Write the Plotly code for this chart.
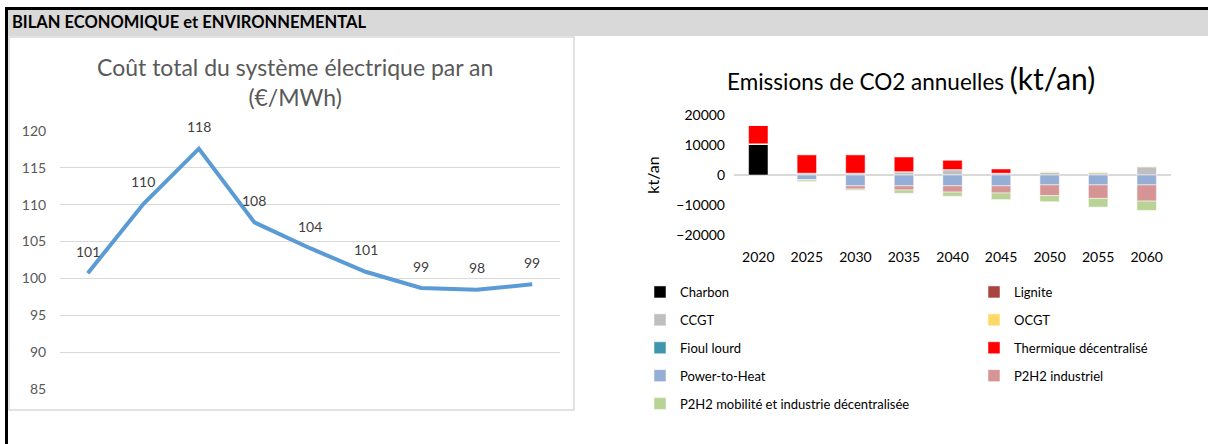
import plotly.graph_objects as go

years = ["2020", "2025", "2030", "2035", "2040", "2045", "2050", "2055", "2060"]

# coût total du système électrique (EUR/MWh)
cout_total = [100.7, 110.1, 117.6, 107.6, 104.1, 100.9, 98.7, 98.45, 99.2]

# émissions de CO2 (kt/an) par filière
charbon = [10200, 0, 0, 0, 0, 0, 0, 0, 0]
lignite = [0, 0, 0, 0, 0, 0, 0, 0, 0]
ccgt = [200, 600, 600, 1100, 1800, 600, 900, 700, 2700]
ocgt = [0, 0, 0, 0, 0, 0, 400, 400, 300]
fioul = [0, 0, 0, 0, 0, 0, 0, 0, 0]
thermique = [6200, 6100, 6100, 4900, 3100, 1400, 0, 0, 0]
power_to_heat = [0, -1600, -3600, -3600, -3600, -3600, -3300, -3300, -3300]
p2h2_ind = [0, -100, -1100, -1400, -2100, -2400, -3600, -4500, -5400]
p2h2_mob = [0, -500, -400, -1100, -1400, -2200, -2000, -2900, -3100]

series = [
    ("Charbon", charbon, "#000000", "legend"),
    ("Lignite", lignite, "#a9443f", "legend2"),
    ("CCGT", ccgt, "#bfbfbf", "legend"),
    ("OCGT", ocgt, "#ffd966", "legend2"),
    ("Fioul lourd", fioul, "#4196ad", "legend"),
    ("Thermique décentralisé", thermique, "#ff0000", "legend2"),
    ("Power-to-Heat", power_to_heat, "#95aed6", "legend"),
    ("P2H2 industriel", p2h2_ind, "#d69594", "legend2"),
    ("P2H2 mobilité et industrie décentralisée", p2h2_mob, "#b9d296", "legend"),
]

W, H = 1208, 444
FONT = "Lato, 'Open Sans', sans-serif"


def px(x):
    return x / W


def py(y):
    return 1 - y / H


fig = go.Figure()

fig.add_trace(go.Scatter(
    x=years, y=cout_total, mode="lines",
    line=dict(color="#5b9bd5", width=4),
    xaxis="x", yaxis="y", showlegend=False, hoverinfo="x+y",
))

for name, vals, color, leg in series:
    fig.add_trace(go.Bar(
        x=years, y=vals, name=name,
        marker=dict(color=color, line=dict(color="white", width=0.5)),
        xaxis="x2", yaxis="y2",
        legend=leg, legendgroup=name,
    ))

# étiquettes de données (x = index de catégorie)
annotations = [
    dict(x=i, y=v, xref="x", yref="y", text=f"{v:.0f}", showarrow=False,
         xanchor="center", yanchor="middle", yshift=22,
         font=dict(size=14, color="#404040"))
    for i, v in enumerate(cout_total)
]

annotations += [
    dict(x=px(10), y=py(22), xref="paper", yref="paper", xanchor="left", yanchor="middle",
         text="<b>BILAN ECONOMIQUE et ENVIRONNEMENTAL</b>", showarrow=False,
         font=dict(size=16.5, color="#000000")),
    dict(x=px(295), y=py(82), xref="paper", yref="paper", xanchor="center", yanchor="middle",
         text="Coût total du système électrique par an<br>(€/MWh)",
         showarrow=False, font=dict(size=23, color="#595959")),
    dict(x=px(911), y=py(78), xref="paper", yref="paper", xanchor="center", yanchor="middle",
         text="Emissions de CO2 annuelles <span style='font-size:30px'>(kt/an)</span>",
         showarrow=False, font=dict(size=22.5, color="#000000")),
]

shapes = [
    # bandeau gris + bordures
    dict(type="rect", xref="paper", yref="paper", x0=px(8), x1=1, y0=py(36), y1=py(10),
         fillcolor="#d9d9d9", line=dict(width=0), layer="below"),
    dict(type="rect", xref="paper", yref="paper", x0=px(5), x1=1, y0=py(10), y1=py(7),
         fillcolor="#000000", line=dict(width=0)),
    dict(type="rect", xref="paper", yref="paper", x0=px(5), x1=px(8), y0=0, y1=py(7),
         fillcolor="#000000", line=dict(width=0)),
    dict(type="rect", xref="paper", yref="paper", x0=px(9), x1=px(574), y0=py(410), y1=py(37),
         fillcolor="rgba(0,0,0,0)", line=dict(width=1.5, color="#d9d9d9"), layer="below"),
]

fig.update_layout(
    width=W, height=H,
    margin=dict(l=0, r=0, t=0, b=0, autoexpand=False),
    paper_bgcolor="white", plot_bgcolor="white",
    font=dict(family=FONT, color="#404040"),
    barmode="relative", bargap=0.6,
    xaxis=dict(domain=[px(60), px(560)], type="category", range=[-0.5, 8.5],
               showticklabels=False, showgrid=False, anchor="y",
               zeroline=False, showline=False, ticks=""),
    yaxis=dict(domain=[py(389), py(131)], range=[85, 120], dtick=5, anchor="x",
               showgrid=True, gridcolor="#d9d9d9", gridwidth=1, zeroline=False,
               tickfont=dict(size=14, color="#595959"),
               ticks="outside", ticklen=10, tickcolor="rgba(0,0,0,0)"),
    xaxis2=dict(domain=[px(734), px(1171)], anchor="y2", type="category",
                range=[-0.5, 8.5], showgrid=False,
                zeroline=False, showline=False, ticks="", ticklabelstandoff=12,
                tickfont=dict(size=14, color="#000000")),
    yaxis2=dict(domain=[py(235), py(115)], anchor="x2", range=[-20000, 20000],
                dtick=10000, tickformat="d", showgrid=False, zeroline=True,
                zerolinecolor="#d9d9d9", zerolinewidth=2,
                tickfont=dict(size=14, color="#000000"),
                ticks="", ticklabelstandoff=8,
                title=dict(text="kt/an", font=dict(size=16, color="#000000"), standoff=12)),
    legend=dict(x=px(640), y=py(277), xanchor="left", yanchor="top",
                tracegroupgap=8, font=dict(size=13, color="#000000"),
                bgcolor="rgba(0,0,0,0)", itemclick=False),
    legend2=dict(x=px(974), y=py(277), xanchor="left", yanchor="top",
                 tracegroupgap=8, font=dict(size=13, color="#000000"),
                 bgcolor="rgba(0,0,0,0)", itemclick=False),
    annotations=annotations,
    shapes=shapes,
    showlegend=True,
)

# la page a une marge de 8px par défaut : on la retire pour caler la figure au coin
fig.write_html("out.html", config={"displayModeBar": False},
               post_script="document.body.style.margin = '0';")
